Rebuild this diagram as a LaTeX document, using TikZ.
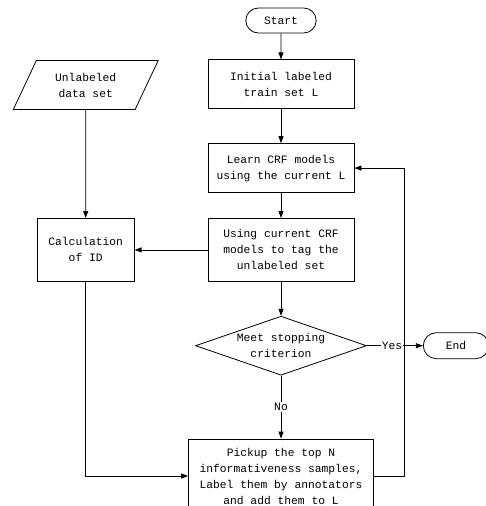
\documentclass[tikz,border=0pt]{standalone}
\usepackage{fontspec}
\setmonofont{Liberation Mono}
\usetikzlibrary{arrows.meta, positioning, shapes.geometric, shapes.misc}

\begin{document}
\begin{tikzpicture}[
  x=1pt, y=-1pt,
  font=\ttfamily\fontsize{11.3}{16}\selectfont,
  box/.style={draw, line width=0.8pt, align=center, minimum width=146pt, minimum height=49pt},
  term/.style={draw, line width=0.8pt, rounded rectangle, minimum width=77pt, minimum height=25pt},
  io/.style={draw, line width=0.8pt, align=center, trapezium, trapezium left angle=63,
             trapezium right angle=117, trapezium stretches=true,
             minimum width=146pt, minimum height=49pt},
  test/.style={draw, line width=0.8pt, align=center, diamond, aspect=2.9,
               inner xsep=-10pt, inner ysep=0pt, minimum width=171pt, minimum height=59pt},
  ar/.style={-{Triangle[length=7pt, width=5pt]}, line width=0.8pt},
  lbl/.style={fill=white, inner sep=1pt}
]
\useasboundingbox (0,0) rectangle (486,506);

\node[term] (start) at (281,20.5) {Start};
\node[box, below=26pt of start] (init) {Initial labeled\\train set L};
\node[box, below=34pt of init] (learn) {Learn CRF models\\using the current L};
\node[box, below=25pt of learn, minimum height=63pt] (tag) {Using current CRF\\models to tag the\\unlabeled set};
\node[box, left=73pt of tag, minimum width=97pt, minimum height=63pt] (calc) {Calculation\\of ID};
\node[io, above=108pt of calc] (data) {Unlabeled\\data set};
\node[test, below=34pt of tag] (dia) {Meet stopping\\criterion};
\node[term, right=56pt of dia, minimum width=72pt, minimum height=26pt] (stop) {End};
\node[box, below=63pt of dia, minimum width=185pt, minimum height=74pt] (pick)
  {Pickup the top N\\informativeness samples,\\Label them by annotators\\and add them to L};

\draw[ar] (start) -- (init);
\draw[ar] (init) -- (learn);
\draw[ar] (learn) -- (tag);
\draw[ar] (tag) -- (calc);
\draw[ar] (data) -- (calc);
\draw[ar] (tag) -- (dia);
\draw[ar] (dia) -- node[lbl, pos=0.45] (yes) {Yes} (stop);
\draw[ar] (dia) -- node[lbl] (no) {No} (pick);
\draw[ar] (calc) |- (pick);
\draw[ar] (pick.east) -- ++(30pt,0) |- (learn.east);
\end{tikzpicture}
\end{document}
